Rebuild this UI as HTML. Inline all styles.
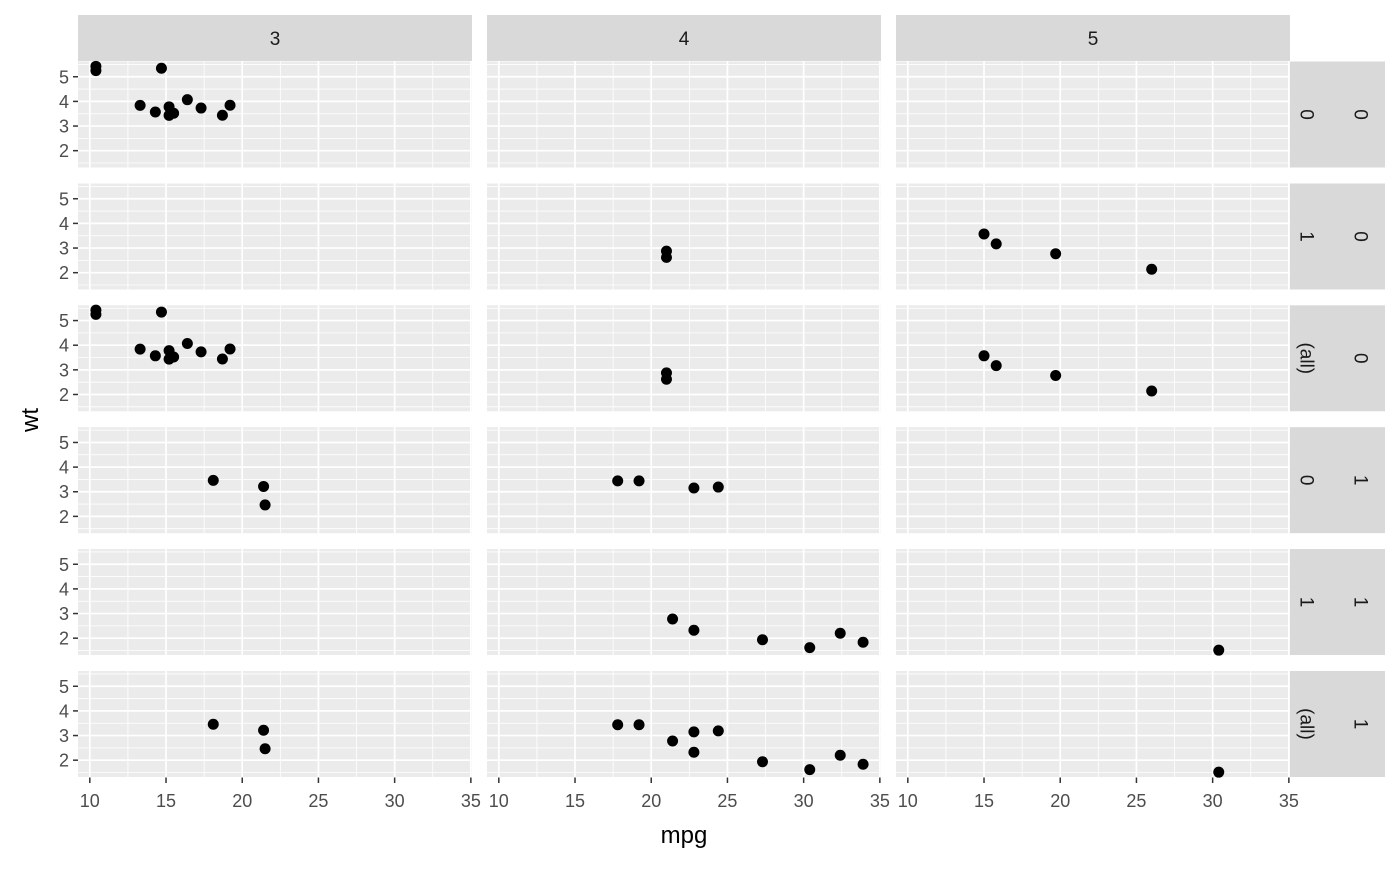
<!DOCTYPE html>
<html><head><meta charset="utf-8"><style>
html,body{margin:0;padding:0;background:#fff}
svg text{font-family:"Liberation Sans","DejaVu Sans",sans-serif}
</style></head><body>
<svg id="chart" width="1400" height="866" xmlns="http://www.w3.org/2000/svg"></svg>
<script>
const colLabels = ["3","4","5"];
const rowAm = ["0","1","(all)","0","1","(all)"];
const rowVs = ["0","0","0","1","1","1"];
const xTicks = [10,15,20,25,30,35];
const yTicks = [2,3,4,5];
// per car: mpg, wt, vs, am, gear
const mpg = [21,21,22.8,21.4,18.7,18.1,14.3,24.4,22.8,19.2,17.8,16.4,17.3,15.2,10.4,10.4,14.7,32.4,30.4,33.9,21.5,15.5,15.2,13.3,19.2,27.3,26,30.4,15.8,19.7,15,21.4];
const wt = [2.62,2.875,2.32,3.215,3.44,3.46,3.57,3.19,3.15,3.44,3.44,4.07,3.73,3.78,5.25,5.424,5.345,2.2,1.615,1.835,2.465,3.52,3.435,3.84,3.845,1.935,2.14,1.513,3.17,2.77,3.57,2.78];
const vs = [0,0,1,1,0,1,0,1,1,1,1,0,0,0,0,0,0,1,1,1,1,0,0,0,0,1,0,1,0,0,0,1];
const am = [1,1,1,0,0,0,0,0,0,0,0,0,0,0,0,0,0,1,1,1,0,0,0,0,0,1,1,1,1,1,1,1];
const gear = [4,4,4,3,3,3,3,4,4,4,4,3,3,3,3,3,3,4,4,4,3,3,3,3,3,4,5,5,5,5,5,4];

const NS="http://www.w3.org/2000/svg";
const svg=document.getElementById('chart');
function mk(t,a,p){const e=document.createElementNS(NS,t);for(const k in a)e.setAttribute(k,a[k]);(p||svg).appendChild(e);return e;}
const colX=[78,487,896], PW=394, PH=106;
const rowY=[61.5,183.5,305.3,427.2,549,671];
const xmin=Math.min(...mpg), xmax=Math.max(...mpg), xr=xmax-xmin;
const ymin=Math.min(...wt), ymax=Math.max(...wt), yr=ymax-ymin;
const x0=xmin-0.05*xr, x1=xmax+0.05*xr, y0=ymin-0.05*yr, y1=ymax+0.05*yr;
function sx(c,v){return colX[c]+(v-x0)/(x1-x0)*PW;}
function sy(r,v){return rowY[r]+PH-(v-y0)/(y1-y0)*PH;}

colLabels.forEach((l,c)=>{
  const g=mk('g',{});
  
  
  mk('rect',{x:colX[c],y:15,width:PW,height:46,fill:'#d9d9d9'},g);
  const t=mk('text',{x:colX[c]+PW/2,y:45,'text-anchor':'middle','font-size':19,fill:'#1a1a1a'},g);t.textContent=l;
});
for(let r=0;r<6;r++){
  const g=mk('g',{});
  
  
  mk('rect',{x:1290,y:rowY[r],width:95,height:PH,fill:'#d9d9d9'},g);
  [[1306,rowAm[r]],[1360,rowVs[r]]].forEach(([x,l])=>{
    const cy=rowY[r]+PH/2;
    const t=mk('text',{x:x,y:cy,'text-anchor':'middle','dominant-baseline':'central','font-size':19,fill:'#1a1a1a',transform:`rotate(90 ${x} ${cy})`},g);t.textContent=l;
  });
  for(let c=0;c<3;c++){
    const p=mk('g',{});
    
    
    mk('rect',{x:colX[c],y:rowY[r],width:PW,height:PH,fill:'#ebebeb'},p);
    for(let v=12.5;v<35;v+=5){if(v>x0&&v<x1)mk('line',{x1:sx(c,v),x2:sx(c,v),y1:rowY[r],y2:rowY[r]+PH,stroke:'#fff','stroke-width':0.8},p);}
    for(let v=1.5;v<6;v+=1){if(v>y0&&v<y1)mk('line',{x1:colX[c],x2:colX[c]+PW,y1:sy(r,v),y2:sy(r,v),stroke:'#fff','stroke-width':0.8},p);}
    xTicks.forEach(v=>mk('line',{x1:sx(c,v),x2:sx(c,v),y1:rowY[r],y2:rowY[r]+PH,stroke:'#fff','stroke-width':1.7},p));
    yTicks.forEach(v=>mk('line',{x1:colX[c],x2:colX[c]+PW,y1:sy(r,v),y2:sy(r,v),stroke:'#fff','stroke-width':1.7},p));
    const vsv=r<3?0:1, amv=r%3;
    for(let i=0;i<mpg.length;i++){
      if(vs[i]!==vsv||gear[i]!==+colLabels[c])continue;
      if(amv<2&&am[i]!==amv)continue;
      const pt=mk('circle',{cx:sx(c,mpg[i]),cy:sy(r,wt[i]),r:5.5,fill:'#000'},p);
      
      
    }
  }
  const ya=mk('g',{});
  
  
  yTicks.forEach(v=>{
    mk('line',{x1:73,x2:78,y1:sy(r,v),y2:sy(r,v),stroke:'#333','stroke-width':1.5},ya);
    const t=mk('text',{x:69,y:sy(r,v)+6.5,'text-anchor':'end','font-size':18,fill:'#4d4d4d'},ya);t.textContent=v;
  });
}
for(let c=0;c<3;c++){
  const xa=mk('g',{});
  
  
  xTicks.forEach(v=>{
    mk('line',{x1:sx(c,v),x2:sx(c,v),y1:777.5,y2:783,stroke:'#333','stroke-width':1.5},xa);
    const t=mk('text',{x:sx(c,v),y:807,'text-anchor':'middle','font-size':18,fill:'#4d4d4d'},xa);t.textContent=v;
  });
}
const xt=mk('text',{x:684,y:843,'text-anchor':'middle','font-size':24,fill:'#000'});xt.textContent='mpg';


const yt=mk('text',{x:38,y:420,'text-anchor':'middle','font-size':24,fill:'#000',transform:'rotate(-90 38 420)'});yt.textContent='wt';


</script>
</body></html>
